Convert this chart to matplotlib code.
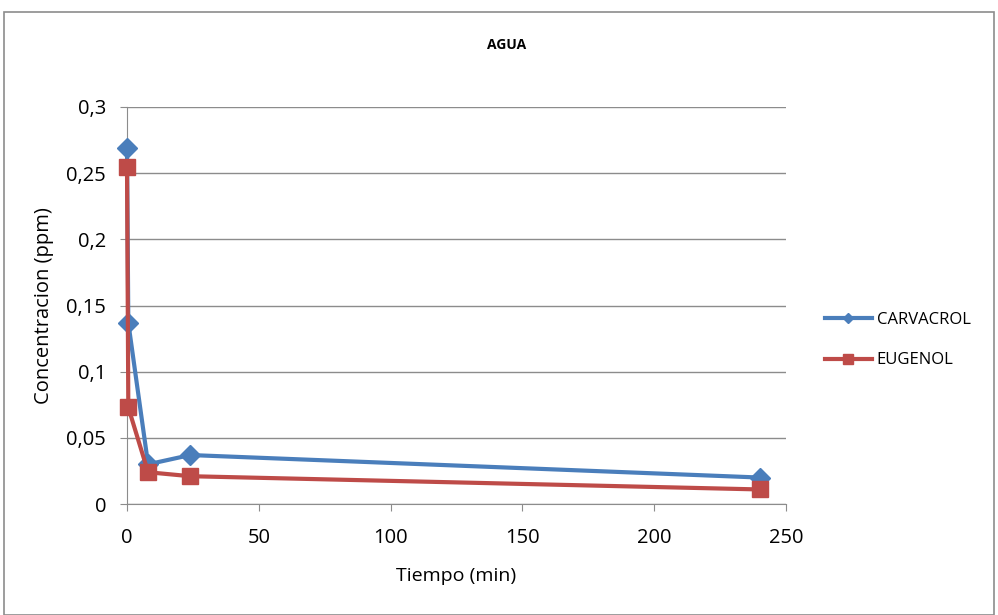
import matplotlib.pyplot as plt
from matplotlib.patches import Rectangle
from matplotlib.ticker import FuncFormatter

plt.rcParams['font.family'] = ['Open Sans', 'DejaVu Sans']

tiempo = [0, 0.5, 8, 24, 240]
carvacrol = [0.269, 0.137, 0.030, 0.037, 0.020]
eugenol = [0.255, 0.073, 0.024, 0.021, 0.011]

fig = plt.figure(figsize=(9.98, 6.15), dpi=100)
fig.patches.append(Rectangle((4 / 998, 0.0), 990 / 998, 1 - 12 / 615, transform=fig.transFigure,
                             fill=False, edgecolor='#8c8c8c', linewidth=1.2))
ax = fig.add_axes([127 / 998, 1 - 504 / 615, (786 - 127) / 998, (504 - 107) / 615])

ax.plot(tiempo, carvacrol, color='#4A7EBB', lw=3, marker='D', ms=10, label='CARVACROL',
        zorder=3, clip_on=False)
ax.plot(tiempo, eugenol, color='#BE4B48', lw=3, marker='s', ms=12, label='EUGENOL',
        zorder=3, clip_on=False)

ax.set_xlim(0, 250)
ax.set_ylim(0, 0.3)
ax.set_xticks([0, 50, 100, 150, 200, 250])
ax.set_yticks([0, 0.05, 0.1, 0.15, 0.2, 0.25, 0.3])
ax.yaxis.set_major_formatter(FuncFormatter(lambda v, p: ('%g' % round(v, 3)).replace('.', ',')))
ax.grid(axis='y', color='#8c8c8c', lw=1)
ax.set_axisbelow(True)
for s in ['top', 'right']:
    ax.spines[s].set_visible(False)
for s in ['left', 'bottom']:
    ax.spines[s].set_color('#8c8c8c')
ax.tick_params(colors='#8c8c8c', labelcolor='black', labelsize=14.5, direction='out', length=5)
ax.tick_params(axis='y', pad=10)
ax.tick_params(axis='x', pad=12)
ax.set_xlabel('Tiempo (min)', fontsize=14, labelpad=14)
ax.set_ylabel('Concentracion (ppm)', fontsize=14.5, labelpad=9)
fig.text(507 / 998, 1 - 45 / 615, 'AGUA', fontsize=10, fontweight='bold', ha='center', va='center')

fig.legend(loc='center left', bbox_to_anchor=(810 / 998, 1 - 340 / 615), frameon=False,
           fontsize=12, handlelength=2.8, handletextpad=0.3, labelspacing=1.5, markerscale=0.55)

fig.savefig('out.png', dpi=100)
